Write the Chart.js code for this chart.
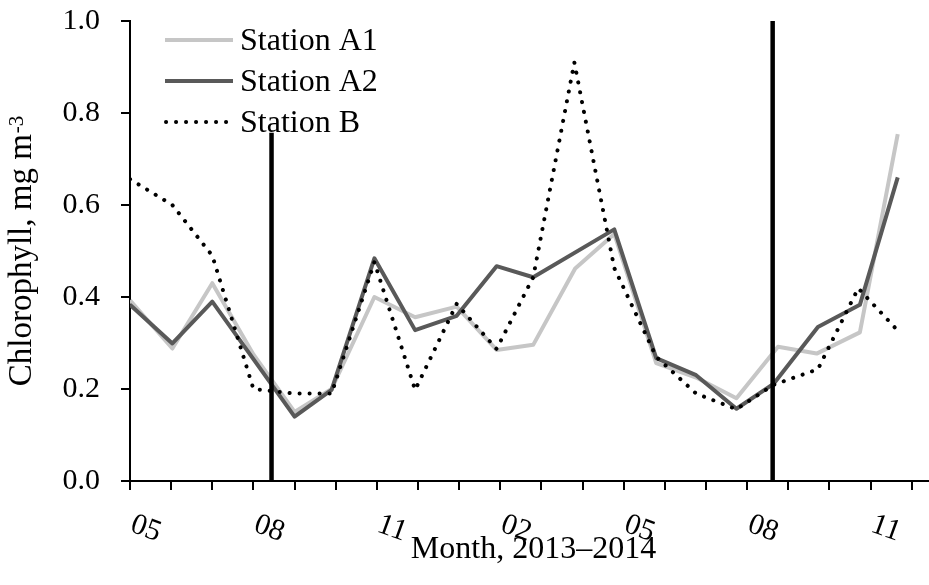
<!DOCTYPE html>
<html>
<head>
<meta charset="utf-8">
<script src="https://cdn.jsdelivr.net/npm/chart.js@4.4.1/dist/chart.umd.min.js"></script>
<style>
  html, body { margin: 0; padding: 0; background: #ffffff; }
  #wrap { width: 929px; height: 585px; position: relative; }
</style>
</head>
<body>
<div id="wrap"><canvas id="c"></canvas></div>
<script>
// x = month index: 0 = May 2013 ... 19 = Dec 2014 (sampling dates)
const monthTickLabels = ['05','06','07','08','09','10','11','12','01','02','03','04','05','06','07','08','09','10','11','12'];
const labeledTicks = [0, 3, 6, 9, 12, 15, 18];
const seriesNames = ['Station A1', 'Station A2', 'Station B'];

const a1Months = [0, 1.03, 2.0, 3.0, 4.0, 4.9, 5.94, 6.93, 7.94, 8.91, 9.8, 10.82, 11.77, 12.79, 13.76, 14.74, 15.75, 16.69, 17.74, 18.66];
const a1Values = [0.393, 0.288, 0.43, 0.275, 0.15, 0.20, 0.40, 0.356, 0.379, 0.285, 0.296, 0.462, 0.537, 0.256, 0.225, 0.18, 0.292, 0.277, 0.323, 0.754];

const a2Months = [0, 1.03, 2.0, 4.0, 4.9, 5.94, 6.93, 7.94, 8.91, 9.8, 11.77, 12.79, 13.76, 14.74, 15.64, 16.72, 17.74, 18.66];
const a2Values = [0.383, 0.299, 0.39, 0.14, 0.198, 0.484, 0.328, 0.359, 0.467, 0.443, 0.547, 0.267, 0.23, 0.157, 0.211, 0.335, 0.383, 0.66];

const bMonths = [0, 1.03, 2.0, 3.0, 4.0, 4.9, 5.94, 6.93, 7.94, 8.91, 9.8, 10.8, 11.77, 12.79, 13.76, 14.74, 15.64, 16.72, 17.7, 18.66];
const bValues = [0.656, 0.60, 0.49, 0.20, 0.19, 0.19, 0.476, 0.198, 0.385, 0.287, 0.443, 0.91, 0.463, 0.27, 0.19, 0.156, 0.209, 0.243, 0.419, 0.327];

const dividerMonths = [3.44, 15.62];
const dividerTops = [0.757, 1.0];

const xMax = 19.42;
const yMin = 0, yMax = 1.0, yStep = 0.2;

const toPoints = (xs, ys) => xs.map((m, i) => ({ x: m, y: ys[i] }));

const FONT = '"Liberation Serif", "Times New Roman", serif';

const datasets = [
  { label: seriesNames[0], data: toPoints(a1Months, a1Values), borderColor: '#c6c6c6', borderWidth: 4, order: 3 },
  { label: seriesNames[1], data: toPoints(a2Months, a2Values), borderColor: '#595959', borderWidth: 4, order: 2 },
  { label: seriesNames[2], data: toPoints(bMonths, bValues), borderColor: '#000000', borderWidth: 4,
    borderDash: [0.1, 9.9], borderCapStyle: 'round', order: 1 },
];
dividerMonths.forEach((m, i) => {
  datasets.push({ label: 'divider' + i, data: [{ x: m, y: 0 }, { x: m, y: dividerTops[i] }],
    borderColor: '#000000', borderWidth: 4.5, order: 0 });
});
datasets.forEach(d => { d.pointRadius = 0; d.tension = 0; d.fill = false; d.borderJoinStyle = 'round'; });

const decor = {
  id: 'decor',
  afterDraw(chart) {
    const ctx = chart.ctx;
    const xs = chart.scales.x;
    const area = chart.chartArea;
    ctx.save();
    ctx.fillStyle = '#000';

    // rotated month labels
    ctx.font = '30px ' + FONT;
    ctx.textAlign = 'left';
    ctx.textBaseline = 'alphabetic';
    labeledTicks.forEach(i => {
      const px = xs.getPixelForValue(i);
      ctx.save();
      ctx.translate(px - 1, area.bottom + 50);
      ctx.rotate(20 * Math.PI / 180);
      ctx.fillText(monthTickLabels[i], 0, 0);
      ctx.restore();
    });

    // x axis title
    ctx.font = '32px ' + FONT;
    ctx.textAlign = 'center';
    ctx.fillText('Month, 2013\u20132014', (area.left + area.right) / 2 + 4, 558);

    // y axis title with superscript
    const main = 'Chlorophyll, mg m';
    const sup = '-3';
    ctx.font = '33px ' + FONT;
    const w1 = ctx.measureText(main).width;
    ctx.font = '21px ' + FONT;
    const w2 = ctx.measureText(sup).width;
    ctx.save();
    ctx.translate(31, (area.top + area.bottom) / 2);
    ctx.rotate(-Math.PI / 2);
    ctx.textAlign = 'left';
    const start = -(w1 + w2 + 1) / 2;
    ctx.font = '33px ' + FONT;
    ctx.fillText(main, start, 0);
    ctx.font = '21px ' + FONT;
    ctx.fillText(sup, start + w1 + 1, -8);
    ctx.restore();

    // legend
    const rowsY = [40, 81, 122];
    ctx.textAlign = 'left';
    ctx.font = '32px ' + FONT;
    for (let k = 0; k < 3; k++) {
      const ds = chart.data.datasets[k];
      const y = rowsY[k];
      ctx.save();
      ctx.strokeStyle = ds.borderColor;
      ctx.lineWidth = ds.borderWidth;
      ctx.lineCap = ds.borderCapStyle || 'butt';
      ctx.setLineDash(ds.borderDash || []);
      ctx.beginPath();
      ctx.moveTo(ds.borderDash ? 166 : 165, y);
      ctx.lineTo(233, y);
      ctx.stroke();
      ctx.restore();
      ctx.fillText(ds.label, 240, y + 10);
    }
    ctx.restore();
  }
};

new Chart(document.getElementById('c'), {
  type: 'line',
  data: { datasets },
  options: {
    responsive: true,
    maintainAspectRatio: false,
    animation: false,
    events: [],
    layout: { padding: { top: 21, right: 0, left: 0, bottom: 0 } },
    plugins: { legend: { display: false }, tooltip: { enabled: false }, title: { display: false } },
    scales: {
      x: {
        type: 'linear',
        min: 0,
        max: xMax,
        afterFit: s => { s.height = 104; s.paddingLeft = 0; s.paddingRight = 0; },
        border: { display: true, color: '#000', width: 2 },
        grid: { drawOnChartArea: false, drawTicks: true, tickLength: 9, color: '#000', lineWidth: 2 },
        ticks: { display: false, stepSize: 1, includeBounds: false }
      },
      y: {
        type: 'linear',
        min: yMin,
        max: yMax,
        afterFit: s => { s.width = 130; s.paddingTop = 0; s.paddingBottom = 0; },
        border: { display: true, color: '#000', width: 2 },
        grid: { drawOnChartArea: false, drawTicks: true, tickLength: 9, color: '#000', lineWidth: 2 },
        ticks: {
          stepSize: yStep,
          padding: 21,
          color: '#000',
          font: { family: FONT, size: 30 },
          callback: v => Number(v).toFixed(1)
        }
      }
    }
  },
  plugins: [decor]
});
</script>
</body>
</html>
